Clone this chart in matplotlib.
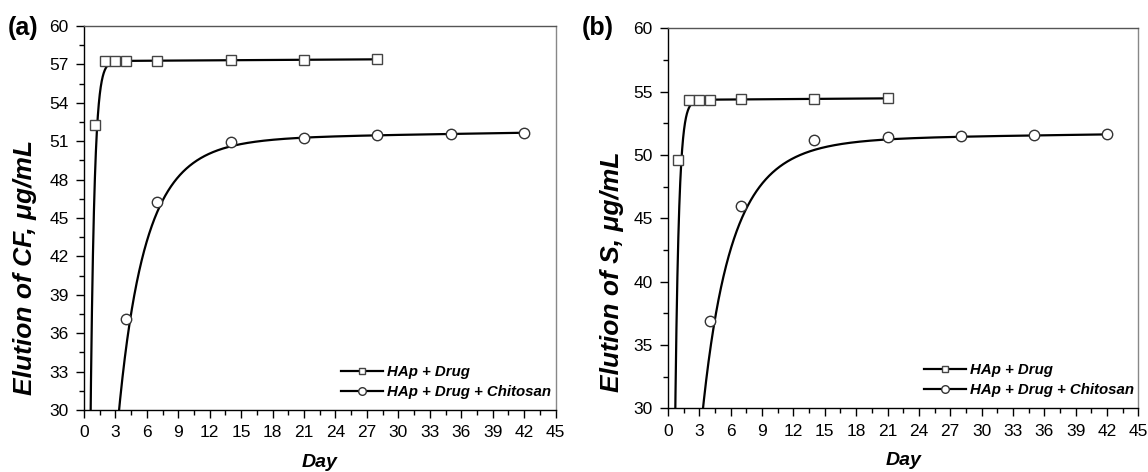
import numpy as np
import matplotlib
matplotlib.use("Agg")
import matplotlib.pyplot as plt
from matplotlib.lines import Line2D
from matplotlib.ticker import MultipleLocator

plt.rcParams['font.family'] = ['Liberation Sans', 'DejaVu Sans']

# elution measurements (day, ug/mL)
days_drug_cf = [1, 2, 3, 4, 7, 14, 21, 28]
cf_drug = [52.28, 57.26, 57.26, 57.26, 57.26, 57.34, 57.36, 57.39]
days_chi = [4, 7, 14, 21, 28, 35, 42]
cf_chi = [37.1, 46.27, 50.95, 51.27, 51.48, 51.55, 51.66]

days_drug_s = [1, 2, 3, 4, 7, 14, 21]
s_drug = [49.6, 54.36, 54.36, 54.36, 54.42, 54.42, 54.47]
s_chi = [36.92, 46.0, 51.16, 51.40, 51.5, 51.58, 51.63]

# fitted release curves: y = a + c*t - b*exp(-k*t**p)
fit_cf_drug = (57.25, 0.005, 150.0, 2.7, 1.0)
fit_cf_chi = (51.11, 0.013, 124.1, 0.7155, 0.75)
fit_s_drug = (54.35, 0.006, 172.0, 2.8, 1.0)
fit_s_chi = (51.17, 0.011, 108.3, 0.659, 0.75)

labels = ["HAp + Drug", "HAp + Drug + Chitosan"]


def fit_curve(params, t_end):
    a, c, b, k, p = params
    t = np.linspace(0, t_end, 3000)
    return t, a + c * t - b * np.exp(-k * t ** p)


def draw_panel(ax, d1, y1, f1, d2, y2, f2, ystep):
    t, y = fit_curve(f1, d1[-1])
    ax.plot(t, y, color='black', lw=1.6, zorder=2)
    t, y = fit_curve(f2, d2[-1])
    ax.plot(t, y, color='black', lw=1.6, zorder=2)
    ax.plot(d1, y1, ls='none', marker='s', ms=7, mfc='white', mec='#444444', mew=1.0, zorder=3)
    ax.plot(d2, y2, ls='none', marker='o', ms=7.5, mfc='white', mec='#333333', mew=1.0, zorder=3)

    ax.set_xlim(0, 45)
    ax.set_ylim(30, 60)
    ax.xaxis.set_major_locator(MultipleLocator(3))
    ax.xaxis.set_minor_locator(MultipleLocator(1.5))
    ax.yaxis.set_major_locator(MultipleLocator(ystep))
    ax.yaxis.set_minor_locator(MultipleLocator(ystep / 2))
    ax.tick_params(which='both', direction='out', top=False, right=False, labelsize=12.5, width=1)
    ax.tick_params(which='major', length=6, pad=5)
    ax.tick_params(which='minor', length=3.5)
    for s in ax.spines.values():
        s.set_linewidth(1.0)
    ax.spines['top'].set_color('#555555')
    ax.spines['right'].set_color('#888888')

    ax.set_xlabel("Day", fontsize=14, fontweight='bold', style='italic', labelpad=10)

    handles = [
        Line2D([], [], color='black', lw=1.6, marker='s', ms=5, mfc='white', mec='#444444'),
        Line2D([], [], color='black', lw=1.6, marker='o', ms=5.5, mfc='white', mec='#333333'),
    ]
    ax.legend(handles, labels, loc='lower right', bbox_to_anchor=(1.01, 0.005), frameon=False,
              prop={'size': 10.8, 'weight': 'bold', 'style': 'italic'},
              handlelength=2.8, handletextpad=0.25, labelspacing=0.4, borderaxespad=0.2)


fig = plt.figure(figsize=(11.48, 4.72), dpi=100)
ax1 = fig.add_axes([0.0732, 0.1314, 0.4107, 0.8137])
ax2 = fig.add_axes([0.5819, 0.135, 0.4097, 0.8048])

draw_panel(ax1, days_drug_cf, cf_drug, fit_cf_drug, days_chi, cf_chi, fit_cf_chi, 3)
draw_panel(ax2, days_drug_s, s_drug, fit_s_drug, days_chi, s_chi, fit_s_chi, 5)

ax1.set_ylabel("Elution of CF, \u03bcg/mL", fontsize=19, fontweight='bold', style='italic')
ax2.set_ylabel("Elution of S, \u03bcg/mL", fontsize=19, fontweight='bold', style='italic')
ax1.yaxis.set_label_coords(-0.1, 0.37)
ax2.yaxis.set_label_coords(-0.094, 0.36)

fig.text(0.007, 0.94, "(a)", fontsize=18, fontweight='bold', va='center')
fig.text(0.507, 0.94, "(b)", fontsize=18, fontweight='bold', va='center')

fig.savefig("out.png", dpi=100)
